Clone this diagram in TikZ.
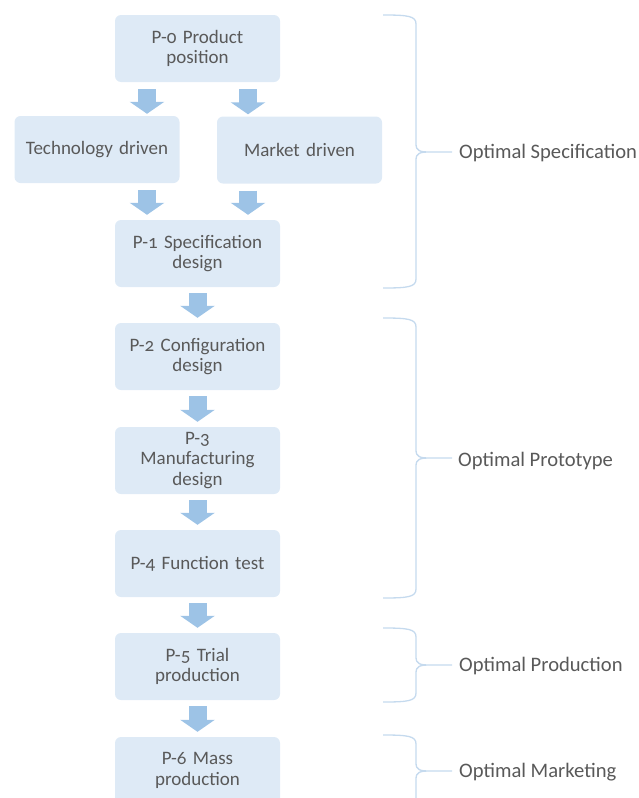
\documentclass[tikz,border=0pt]{standalone}
\usepackage{fontspec}
\setmainfont{Carlito}[Numbers=OldStyle]
\usetikzlibrary{arrows.meta,calc}
\definecolor{boxfill}{HTML}{DEEAF6}
\definecolor{arrowblue}{HTML}{9DC3E6}
\definecolor{bracecol}{HTML}{C5DAEE}
\definecolor{textgrey}{HTML}{595959}
\tikzset{
  stage/.style={rectangle, rounded corners=6pt, fill=boxfill, draw=none,
    minimum width=165pt, minimum height=67pt, text width=155pt, align=center,
    text=textgrey, font=\fontsize{19}{20.5}\selectfont, inner sep=0pt},
  flowarrow/.style={draw=arrowblue, line width=18pt,
    -{Triangle[width=34pt,length=12pt]}},
  bracket/.style={draw=bracecol, line width=1.3pt},
  phase/.style={anchor=west, inner sep=0pt, text=textgrey,
    font=\fontsize{20.6}{22}\selectfont}
}
\begin{document}
\begin{tikzpicture}[x=1pt,y=-1pt]
\useasboundingbox (0,0) rectangle (638,798);

% process boxes
\node[stage] (p0)     at (197.5,48.5)  {P-0 Product\\position};
\node[stage] (tech)   at (97,149.5)    {Technology driven};
\node[stage] (market) at (299.5,150)   {Market driven};
\node[stage] (p1)     at (197.5,253.5) {P-1 Specification\\design};
\node[stage] (p2)     at (197.5,356.5) {P-2 Configuration\\design};
\node[stage] (p3)     at (197.5,460.5) {P-3\\Manufacturing\\design};
\node[stage] (p4)     at (197.5,563.5) {P-4 Function test};
\node[stage] (p5)     at (197.5,666.5) {P-5 Trial\\production};
\node[stage] (p6)     at (197.5,770.5) {P-6 Mass\\production};

% branch arrows
\coordinate (la) at ([xshift=-50.5pt]p0.south);
\coordinate (ra) at ([xshift=50.5pt]p0.south);
\draw[flowarrow, shorten <=7pt, shorten >=2pt] (la) -- (la |- tech.north);
\draw[flowarrow, shorten <=7pt, shorten >=2pt] (ra) -- (ra |- market.north);
\draw[flowarrow, shorten <=7pt, shorten >=5pt] (la |- tech.south) -- (la |- p1.north);
\draw[flowarrow, shorten <=7pt, shorten >=5pt] (ra |- market.south) -- (ra |- p1.north);

% main chain arrows
\foreach \a/\b in {p1/p2,p2/p3,p3/p4,p4/p5,p5/p6}
  \draw[flowarrow, shorten <=6pt, shorten >=5pt] (\a.south) -- (\b.north);

% phase brackets: top y, tip y, bottom y
\newcommand{\phasebrace}[3]{%
  \draw[bracket] (383,#1) .. controls (408,#1) and (416,#1+1) .. (416,#1+9)
    -- (416,#2-8) .. controls (416,#2-1) and (420,#2) .. (430,#2) -- (452,#2)
    (430,#2) .. controls (420,#2) and (416,#2+1) .. (416,#2+8)
    -- (416,#3-9) .. controls (416,#3-1) and (408,#3) .. (383,#3);}
\phasebrace{15}{152}{288}
\phasebrace{318}{458}{598}
\phasebrace{628}{665}{702}
\phasebrace{735}{771}{807}

% phase labels
\node[phase] (spec)  at (459,153) {Optimal Specification};
\node[phase] (proto) at (458,461) {Optimal Prototype};
\node[phase] (prod)  at (459,666) {Optimal Production};
\node[phase] (mark)  at (459,772) {Optimal Marketing};
\end{tikzpicture}
\end{document}
